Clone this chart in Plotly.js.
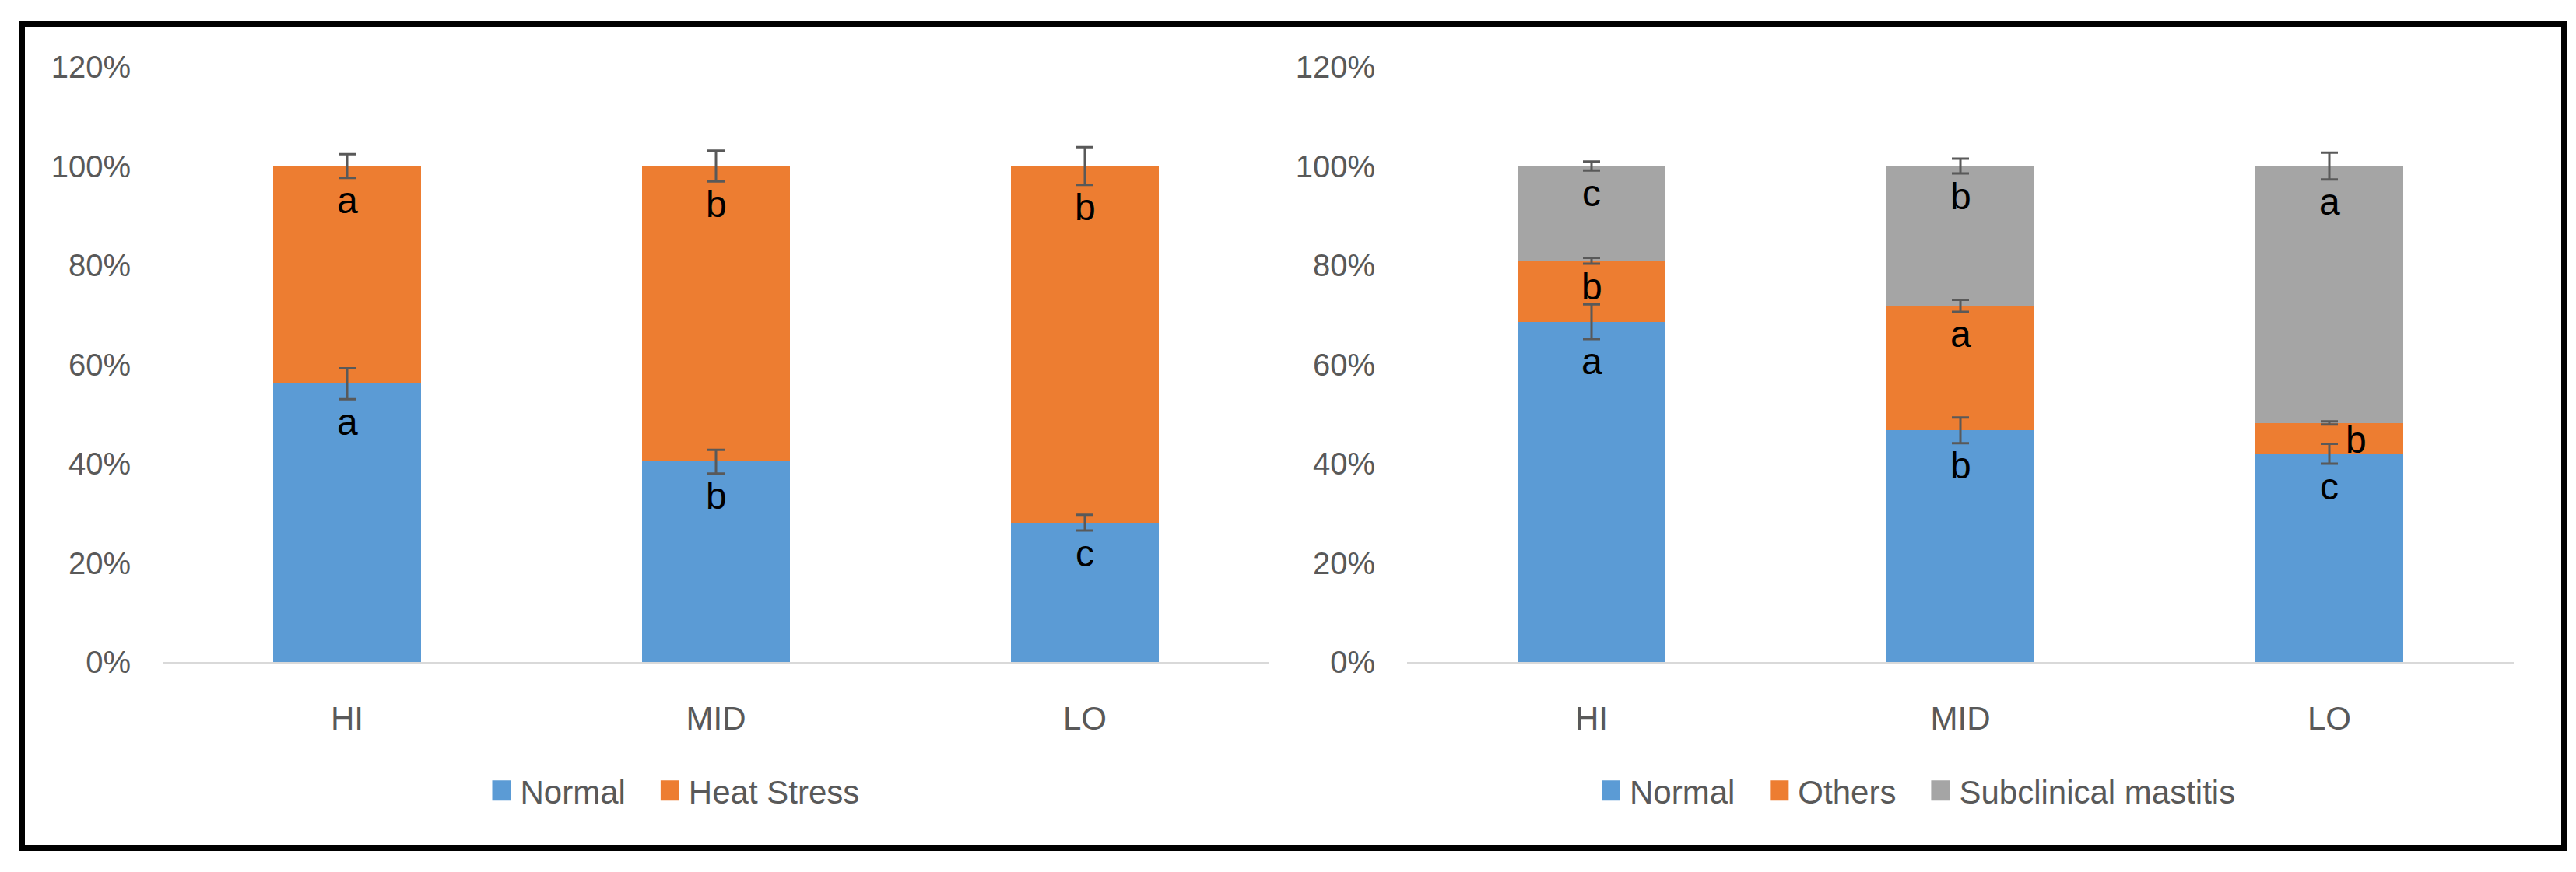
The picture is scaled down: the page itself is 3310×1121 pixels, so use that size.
<!DOCTYPE html>
<html><head><meta charset="utf-8">
<script src="https://cdn.plot.ly/plotly-3.0.1.min.js"></script>
<style>html,body{margin:0;padding:0;background:#fff;} #chart{width:3310px;height:1121px;}</style>
</head><body><div id="chart"></div>
<script>
// ---------- data ----------
const categories = ['HI', 'MID', 'LO'];
const yTicks = [0, 20, 40, 60, 80, 100, 120];

// Left panel: Normal vs Heat Stress (%)
const heatNormal = [56.1, 40.4, 28.1];
const heatNormalErr = [3.1, 2.4, 1.6];
const heatNormalLetters = ['a', 'b', 'c'];
const heatStress = [43.9, 59.6, 71.9];
const heatStressErr = [2.4, 3.1, 3.8];
const heatStressLetters = ['a', 'b', 'b'];

// Right panel: Normal / Others / Subclinical mastitis (%)
const mastNormal = [68.6, 46.7, 42.0];
const mastNormalErr = [3.5, 2.6, 2.0];
const mastNormalLetters = ['a', 'b', 'c'];
const mastOthers = [12.3, 25.1, 6.2];
const mastOthersErr = [0.6, 1.2, 0.3];
const mastOthersLetters = ['b', 'a', 'b'];
const mastSub = [19.1, 28.2, 51.8];
const mastSubErr = [0.9, 1.5, 2.7];
const mastSubLetters = ['c', 'b', 'a'];

// ---------- styling / layout ----------
const W = 3310, H = 1121;
const fx = p => p / W;
const fy = p => 1 - p / H;
const FONT = 'Liberation Sans, Arial, sans-serif';
const TXT = '#595959';
const COLORS = { Normal: '#5B9BD5', 'Heat Stress': '#ED7D31', Others: '#ED7D31', 'Subclinical mastitis': '#A5A5A5' };

const panels = [
  { xa: 'x', ya: 'y', legend: 'legend', series: [
    { name: 'Normal', v: heatNormal, e: heatNormalErr, l: heatNormalLetters },
    { name: 'Heat Stress', v: heatStress, e: heatStressErr, l: heatStressLetters }
  ]},
  { xa: 'x2', ya: 'y2', legend: 'legend2', series: [
    { name: 'Normal', v: mastNormal, e: mastNormalErr, l: mastNormalLetters },
    { name: 'Others', v: mastOthers, e: mastOthersErr, l: mastOthersLetters },
    { name: 'Subclinical mastitis', v: mastSub, e: mastSubErr, l: mastSubLetters }
  ]}
];

const traces = [];
const errTraces = [];
const annotations = [];

panels.forEach(pn => {
  const base = categories.map(() => 0);
  pn.series.forEach(s => {
    traces.push({
      type: 'bar', x: categories, y: s.v, name: s.name,
      xaxis: pn.xa, yaxis: pn.ya, legend: pn.legend,
      marker: { color: COLORS[s.name], line: { width: 0 } },
      hoverinfo: 'skip'
    });
    const tops = s.v.map((v, i) => base[i] + v);
    errTraces.push({
      type: 'scatter', mode: 'markers', x: categories, y: tops,
      xaxis: pn.xa, yaxis: pn.ya, showlegend: false, hoverinfo: 'skip',
      marker: { size: 1, opacity: 0 },
      error_y: { type: 'data', array: s.e, visible: true, color: '#595959', thickness: 3, width: 11 }
    });
    s.v.forEach((v, i) => {
      const small = v < 8;
      annotations.push({
        xref: pn.xa, yref: pn.ya, x: categories[i],
        y: small ? base[i] + v / 2 : tops[i] - s.e[i],
        yanchor: 'middle', xanchor: 'center',
        xshift: small ? 34 : 0, yshift: small ? -2 : -29,
        text: s.l[i], showarrow: false,
        font: { family: FONT, size: 48, color: '#000000' }
      });
      base[i] = tops[i];
    });
  });
});

const yDomain = [fy(851), fy(86)];
const xAxisBase = {
  type: 'category', showgrid: false, zeroline: false, showline: true,
  linecolor: '#D9D9D9', linewidth: 3, ticks: '', ticklabelstandoff: 34,
  tickfont: { family: FONT, size: 42, color: TXT }, fixedrange: true
};
const yAxisBase = {
  range: [0, 120], tickvals: yTicks, ticktext: yTicks.map(v => v + '%'),
  showgrid: false, zeroline: false, showline: false, ticks: '', ticklabelstandoff: 40,
  tickfont: { family: FONT, size: 40, color: TXT }, fixedrange: true, domain: yDomain
};
const legendBase = {
  orientation: 'h', xanchor: 'center', yanchor: 'middle', y: fy(1016.5),
  font: { family: FONT, size: 42, color: TXT }, itemwidth: 66, traceorder: 'normal',
  bgcolor: 'rgba(0,0,0,0)', borderwidth: 0
};

const layout = {
  width: W, height: H,
  margin: { l: 0, r: 0, t: 0, b: 0, autoexpand: false },
  paper_bgcolor: '#ffffff', plot_bgcolor: 'rgba(0,0,0,0)',
  barmode: 'stack', bargap: 0.6,
  font: { family: FONT, color: TXT },
  xaxis: Object.assign({}, xAxisBase, { domain: [fx(209), fx(1631)], anchor: 'y' }),
  yaxis: Object.assign({}, yAxisBase, { anchor: 'x' }),
  xaxis2: Object.assign({}, xAxisBase, { domain: [fx(1808), fx(3230)], anchor: 'y2' }),
  yaxis2: Object.assign({}, yAxisBase, { anchor: 'x2' }),
  legend: Object.assign({}, legendBase, { x: fx(851) }),
  legend2: Object.assign({}, legendBase, { x: fx(2448) }),
  annotations: annotations,
  shapes: [{
    type: 'rect', xref: 'paper', yref: 'paper',
    x0: fx(28), x1: fx(3295), y0: fy(1090), y1: fy(31),
    line: { color: '#000000', width: 8 }, fillcolor: 'rgba(0,0,0,0)', layer: 'above'
  }],
  showlegend: true
};

Plotly.newPlot('chart', traces.concat(errTraces), layout, { displayModeBar: false, staticPlot: true })
  .then(gd => {
    const textGap = legendBase.itemwidth + 10;
    gd.querySelectorAll('g.legendpoints path').forEach(p => {
      p.setAttribute('d', 'M12,13H-12V-13H12Z');
      p.setAttribute('transform', 'translate(' + (textGap - 24) + ',0)');
    });
  });
</script>
</body></html>
